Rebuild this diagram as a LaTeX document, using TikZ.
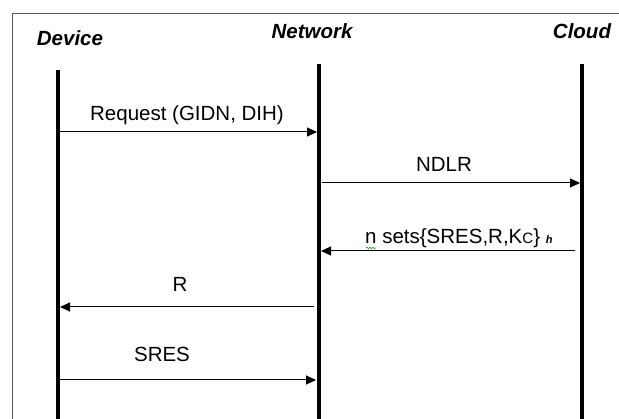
\documentclass[tikz,border=0pt]{standalone}
\usepackage{fontspec}
\setmainfont{Liberation Sans}
\usetikzlibrary{arrows.meta,decorations.pathmorphing}
\begin{document}
\begin{tikzpicture}[x=1pt,y=-1pt,
  life/.style={line width=4.5pt},
  msg/.style={line width=1pt,-{Triangle[length=10pt,width=9pt]}},
  head/.style={font=\bfseries\itshape\fontsize{20.5}{24}\selectfont},
  lbl/.style={font=\fontsize{20.5}{24}\selectfont}]
\useasboundingbox (0,0) rectangle (619,419);
\draw[line width=1pt,gray!70!black] (12,425) -- (12,14) -- (625,14);
\node[head] (hd) at (70,38) {Device};
\node[head] (hn) at (312,31) {Network};
\node[head] (hc) at (582,31) {Cloud};
\coordinate (d0) at (58,70);  \coordinate (d1) at (58,421);
\coordinate (n0) at (319,64); \coordinate (n1) at (319,421);
\coordinate (c0) at (582,64); \coordinate (c1) at (582,421);
\draw[life] (d0) -- (d1);
\draw[life] (n0) -- (n1);
\draw[life] (c0) -- (c1);
% messages
\coordinate (a1s) at (60,132); \coordinate (a1e) at (317,132);
\draw[msg] (a1s) -- (a1e);
\node[lbl] (l1) at (187,115) {Request (GIDN, DIH)};
\coordinate (a2s) at (322,183); \coordinate (a2e) at (580,183);
\draw[msg] (a2s) -- (a2e);
\node[lbl] (l2) at (444,164) {NDLR};
\coordinate (a3s) at (575,251); \coordinate (a3e) at (321,251);
\draw[msg] (a3s) -- (a3e);
\node[lbl,anchor=base west,inner sep=0pt] (l3) at (365,244) {n sets\{SRES,R,K{\fontsize{15}{16}\selectfont C}\} {\fontsize{11}{12}\selectfont\itshape\bfseries h}};
\coordinate (sq0) at (366,248); \coordinate (sq1) at (376,248);
\draw[green!60!black,line width=0.5pt,decorate,decoration={snake,amplitude=1pt,segment length=3pt}] (sq0) -- (sq1);
\coordinate (a4s) at (314,307); \coordinate (a4e) at (60,307);
\draw[msg] (a4s) -- (a4e);
\node[lbl] (l4) at (180,284) {R};
\coordinate (a5s) at (60,380); \coordinate (a5e) at (316,380);
\draw[msg] (a5s) -- (a5e);
\node[lbl] (l5) at (162,354) {SRES};
\end{tikzpicture}
\end{document}
